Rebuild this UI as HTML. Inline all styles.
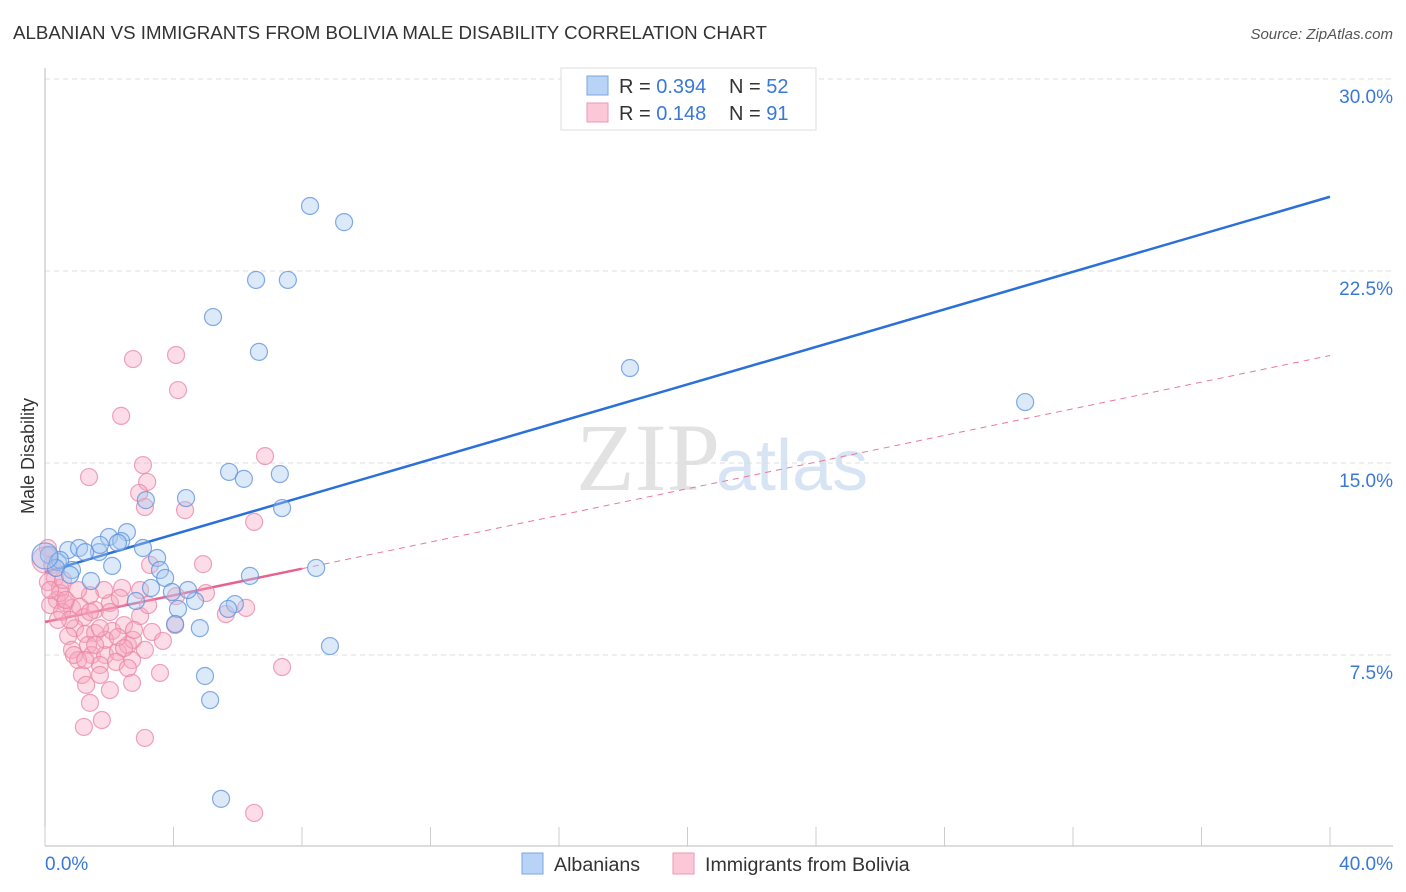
<!DOCTYPE html>
<html><head><meta charset="utf-8"><style>
body{margin:0;background:#fff;font-family:"Liberation Sans",sans-serif;}
svg{display:block}
</style></head><body>
<svg id="chart" width="1406" height="892" viewBox="0 0 1406 892">
<text x="13" y="39" font-size="18.7" fill="#333">ALBANIAN VS IMMIGRANTS FROM BOLIVIA MALE DISABILITY CORRELATION CHART</text>
<text x="1393" y="39" font-size="15" fill="#555" font-style="italic" text-anchor="end">Source: ZipAtlas.com</text>
<text x="720" y="490" font-size="96" fill="#ccc" opacity="0.55" text-anchor="end" font-family="Liberation Serif,serif">ZIP</text>
<text x="716" y="490" font-size="72" fill="#a8c4e8" opacity="0.45">atlas</text>
<text transform="translate(34,456) rotate(-90)" font-size="18" fill="#333" text-anchor="middle">Male Disability</text>
<g id="grid"></g>
<g id="axes"></g>
<g id="lines"></g>
<g id="pts"></g>
<g>
<rect x="561" y="68" width="255" height="62" fill="#fff" stroke="#ddd"/>
<rect x="587" y="76" width="21" height="19" fill="#b8d3f5" stroke="#7aa5e0"/>
<rect x="587" y="103" width="21" height="19" fill="#fcc8d8" stroke="#ee97b3"/>
<text x="619" y="93" font-size="20" fill="#333">R = <tspan fill="#3a78d8">0.394</tspan></text>
<text x="729" y="93" font-size="20" fill="#333">N = <tspan fill="#3a78d8">52</tspan></text>
<text x="619" y="120" font-size="20" fill="#333">R =  <tspan fill="#3a78d8">0.148</tspan></text>
<text x="729" y="120" font-size="20" fill="#333">N =  <tspan fill="#3a78d8">91</tspan></text>
</g>
<g>
<rect x="522" y="853" width="21" height="21" fill="#b8d3f5" stroke="#7aa5e0"/>
<text x="554" y="871" font-size="19.6" fill="#333">Albanians</text>
<text x="705" y="871" font-size="19.6" fill="#333">Immigrants from Bolivia</text>
<rect x="673" y="853" width="21" height="21" fill="#fcc8d8" stroke="#ee97b3"/>
</g>
</svg>
<script>
const blueX=[8.25,9.31,6.57,7.56,5.23,6.66,18.21,30.51,5.73,6.19,7.31,3.14,4.39,7.38,2.55,1.99,2.37,1.68,0.72,1.06,3.05,3.49,0.12,0.40,0.84,2.09,3.58,3.74,1.43,8.44,6.38,3.30,3.95,4.67,2.83,4.14,4.45,5.91,5.70,4.05,4.82,8.87,4.98,5.14,5.48,0.47,0.34,1.71,2.27,0.78,1.25,0];
const blueY=[25.04,24.41,22.15,22.15,20.70,19.34,18.71,17.38,14.65,14.38,14.57,13.55,13.63,13.24,12.30,12.11,11.95,11.52,11.60,11.68,11.68,11.29,11.41,11.13,10.82,10.98,10.82,10.51,10.39,10.90,10.59,10.12,9.96,9.61,9.61,9.30,10.04,9.49,9.30,8.71,8.55,7.85,6.68,5.74,1.88,11.21,10.90,11.80,11.88,10.63,11.52,11.37];
const pinkX=[6.85,2.74,4.08,4.14,2.37,1.37,3.05,3.18,2.93,3.11,4.36,6.51,4.92,0.09,0.22,0.31,0.09,0.47,0.37,0.62,0.16,0.84,1.09,0.53,1.21,1.56,2.02,1.84,2.40,2.96,4.08,5.01,5.63,6.26,0.93,0.72,1.25,1.56,2.09,2.46,2.96,3.33,3.67,0.84,1.34,1.46,1.87,2.27,2.58,2.74,1.03,1.71,2.21,2.71,3.58,1.15,1.71,2.58,2.71,1.28,1.40,1.77,1.21,3.11,7.38,6.51,0.47,1.40,0.78,1.87,2.27,1.56,0.40,0.90,0.65,2.02,2.46,3.11,1.40,1.03,0.16,0,0.56,2.77,3.21,1.71,2.33,1.25,2.02,4.05,3.27];
const pinkY=[15.27,19.06,19.22,17.85,16.84,14.45,14.92,14.26,13.83,13.28,13.16,12.70,11.05,11.68,11.02,10.51,10.35,10.12,9.65,9.53,9.45,9.34,9.38,9.18,8.98,9.26,9.53,10.04,10.12,10.04,9.80,9.92,9.10,9.34,8.55,8.24,8.32,8.36,8.44,8.67,9.02,8.40,8.05,7.70,7.89,7.50,7.50,7.62,7.89,8.09,7.30,7.11,7.23,7.30,6.80,6.72,6.72,6.99,6.41,6.33,5.63,4.96,4.69,4.26,7.03,1.33,9.92,9.84,8.87,8.09,8.20,7.89,8.87,7.50,9.65,9.18,7.77,7.70,9.18,10.04,10.04,11.21,10.43,8.48,9.45,8.55,9.73,7.30,6.13,8.67,11.02];
const yTicks=[7.5,15,22.5,30];
const yTickLabels=["7.5%","15.0%","22.5%","30.0%"];
const xTicks=[0,4,8,12,16,20,24,28,32,36,40];
const xTickLabels=["0.0%","40.0%"];
const blueTrend=[10.74,25.4];
const pinkTrend=[8.79,19.2];
const pinkSolidEnd=8;

const NS="http://www.w3.org/2000/svg";
const X=v=>45+v*32.125, Y=v=>847-v*25.6;
function mk(p,t,a){const e=document.createElementNS(NS,t);for(const k in a)e.setAttribute(k,a[k]);p.appendChild(e);return e;}
const grid=document.getElementById('grid'),axes=document.getElementById('axes'),lines=document.getElementById('lines'),pts=document.getElementById('pts');
yTicks.forEach((v,i)=>{
 const l=mk(grid,'line',{x1:45,x2:1393,y1:Y(v),y2:Y(v),stroke:'#ddd','stroke-dasharray':'5,4'});
 
 
 const t=mk(grid,'text',{x:1393,y:Y(v)+24,'font-size':19,fill:'#3a78d8','text-anchor':'end'});
 t.textContent=yTickLabels[i];
 
 
});
const ya=mk(axes,'line',{x1:45,x2:45,y1:68,y2:846,stroke:'#bbb'});


const xa=mk(axes,'line',{x1:45,x2:1393,y1:846,y2:846,stroke:'#bbb'});


xTicks.forEach(v=>{
 const t=mk(axes,'line',{x1:X(v),x2:X(v),y1:827,y2:846,stroke:'#ccc'});
 
 
});
const xl0=mk(axes,'text',{x:45,y:870,'font-size':19,fill:'#3a78d8'});xl0.textContent=xTickLabels[0];


const xl1=mk(axes,'text',{x:1393,y:870,'font-size':19,fill:'#3a78d8','text-anchor':'end'});xl1.textContent=xTickLabels[1];


function draw(xs,ys,fill,stroke,name){
 xs.forEach((x,i)=>{
  const big=(x===0);
  const c=mk(pts,'circle',{cx:X(x),cy:Y(ys[i]),r:big?13:8.5,fill:fill,'fill-opacity':0.4,stroke:stroke,'stroke-opacity':0.75,'stroke-width':1.2});
  
  
 });
}
draw(pinkX,pinkY,'#f8a8c0','#ea86a6','bolivia-point');
draw(blueX,blueY,'#a8c8f0','#5a90dc','albanian-point');
const pAt=x=>pinkTrend[0]+(pinkTrend[1]-pinkTrend[0])*x/40;
const pd=mk(lines,'line',{x1:X(pinkSolidEnd),y1:Y(pAt(pinkSolidEnd)),x2:X(40),y2:Y(pinkTrend[1]),stroke:'#e87a9c','stroke-width':1,'stroke-dasharray':'6,5'});


const ps=mk(lines,'line',{x1:X(0),y1:Y(pinkTrend[0]),x2:X(pinkSolidEnd),y2:Y(pAt(pinkSolidEnd)),stroke:'#e8628c','stroke-width':2.5});


const bl=mk(lines,'line',{x1:X(0),y1:Y(blueTrend[0]),x2:X(40),y2:Y(blueTrend[1]),stroke:'#2a70d8','stroke-width':2.5});


</script>
</body></html>
